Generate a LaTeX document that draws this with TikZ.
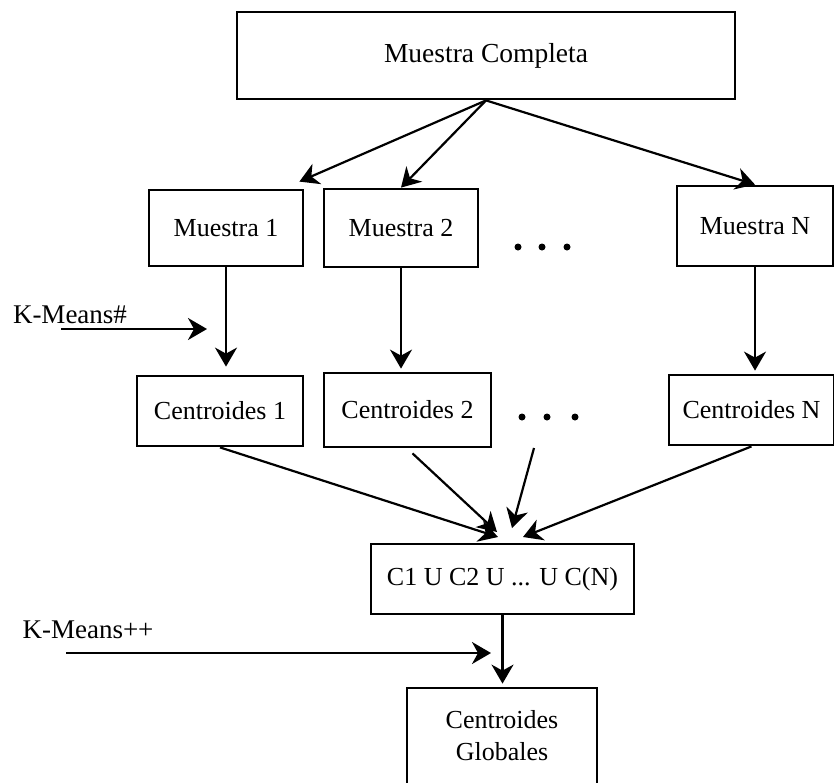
\documentclass[tikz,border=0pt]{standalone}
\usepackage{fontspec}
\setmainfont{Liberation Serif}
\usetikzlibrary{arrows.meta,calc}
\begin{document}
\begin{tikzpicture}[x=0.5pt,y=-0.5pt,
  box/.style={draw, line width=1.4pt, inner sep=0pt, font=\fontsize{13}{16}\selectfont, align=center},
  arr/.style={line width=1.1pt, -{Stealth[length=9.5pt,width=11pt,inset=3pt]}},
  lbl/.style={inner sep=0pt, font=\fontsize{13.5}{16}\selectfont},
  dotn/.style={circle, fill, inner sep=0pt, minimum size=3.5pt}]
\useasboundingbox (0,0) rectangle (834,782);
% boxes
\node[box, minimum width=249pt, minimum height=43.5pt, font=\fontsize{13.75}{16}\selectfont] (top) at (486,55.5) {Muestra Completa};
\node[box, minimum width=77pt, minimum height=38pt] (m1) at (226,228) {Muestra 1};
\node[box, minimum width=77pt, minimum height=39pt] (m2) at (401,228) {Muestra 2};
\node[box, minimum width=78pt, minimum height=40pt] (mN) at (755,226) {Muestra N};
\node[box, minimum width=83pt, minimum height=35pt] (c1) at (220,411) {Centroides 1};
\node[box, minimum width=83.5pt, minimum height=37pt] (c2) at (407.5,410) {Centroides 2};
\node[box, minimum width=82.5pt, minimum height=35pt] (cN) at (751.5,410) {Centroides N};
\node[box, minimum width=131.5pt, minimum height=35pt] (u) at (502.5,579) {C1 U C2 U ... U C(N)};
\node[box, minimum width=95pt, minimum height=48pt] (g) at (502,736) {Centroides\\Globales};
% dots
\node[dotn] (d1) at (518,247) {};
\node[dotn] (d2) at (542,247) {};
\node[dotn] (d3) at (567,247) {};
\node[dotn] (e1) at (522,417) {};
\node[dotn] (e2) at (547,417) {};
\node[dotn] (e3) at (575,417) {};
% labels
\node[lbl] (km1) at (70,315) {K-Means\#};
\node[lbl] (km2) at (88,630) {K-Means++};
% connectors
\coordinate (t0) at ($(m1.north east)+(-5,-7)$);
\draw[arr] (top.south) -- (t0);
\draw[arr] (top.south) -- (m2.north);
\draw[arr] (top.south) -- (mN.north);
\draw[arr, shorten >=4pt] (m1.south) -- (m1.south |- c1.north);
\draw[arr, shorten >=1.5pt] (m2.south) -- (m2.south |- c2.north);
\draw[arr, shorten >=1.5pt] (mN.south) -- (mN.south |- cN.north);
\coordinate (ka) at (61,329);
\coordinate (kb) at (207,329);
\draw[arr] (ka) -- (kb);
\coordinate (kc) at (66,653);
\coordinate (kd) at (491,653);
\draw[arr] (kc) -- (kd);
\draw[arr, shorten >=1.5pt] (u.south) -- (u.south |- g.north);
\coordinate (t1) at (498,537);
\coordinate (t2) at (497,532);
\coordinate (t3) at (512,528);
\coordinate (t4) at (523,537);
\coordinate (s2) at ($(c2.south)+(5,5)$);
\coordinate (s3) at (534,448);
\draw[arr] (c1.south) -- (t1);
\draw[arr] (s2) -- (t2);
\draw[arr] (s3) -- (t3);
\draw[arr] (cN.south) -- (t4);
\end{tikzpicture}
\end{document}
